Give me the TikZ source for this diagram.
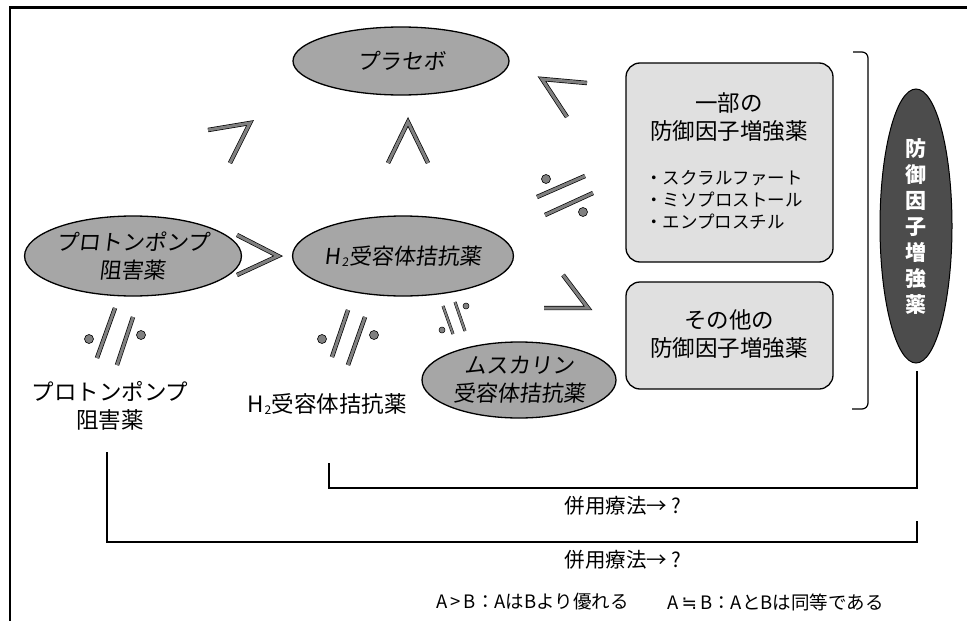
\documentclass[tikz,border=0pt]{standalone}
\usepackage{fontspec}
\setmainfont{Noto Sans CJK JP}
\newfontfamily\slantjp[FakeSlant=0.12]{Noto Sans CJK JP}
\newfontfamily\symfont{DejaVu Sans}
\usetikzlibrary{shapes.geometric}
\newcommand{\htwo}{H\kern1pt\raisebox{-2pt}{\fontsize{12}{12}\selectfont 2}\kern0.5pt}
\begin{document}
\begin{tikzpicture}[x=1pt,y=-1pt,
  lightell/.style={ellipse, draw=black, line width=1.3pt, fill=black!35, inner sep=0pt, align=center, font=\slantjp\fontsize{22}{28}\selectfont},
  darkell/.style={ellipse, draw=black, line width=1pt, fill=black!70, inner sep=0pt, align=center, text=white, font=\bfseries\fontsize{21}{26}\selectfont},
  boxsty/.style={draw=black, line width=1.3pt, rounded corners=14pt, fill=black!12, inner sep=0pt},
  boxtxt/.style={align=center, inner sep=0pt, font=\fontsize{22.5}{28}\selectfont},
  listtxt/.style={anchor=west, inner sep=0pt, font=\fontsize{17.5}{20}\selectfont},
  lbl/.style={align=center, inner sep=0pt, font=\fontsize{22.5}{28}\selectfont},
  reltx/.style={inner sep=0pt, font=\fontsize{20.5}{22}\selectfont},
  legtx/.style={inner sep=0pt, anchor=west, font=\fontsize{18.5}{20}\selectfont},
  rel/.style={draw=black, line width=0.7pt, double=black!50, double distance=3pt, line join=miter, line cap=butt},
  relsm/.style={draw=black, line width=0.5pt, double=black!50, double distance=2pt, line cap=butt},
  reldot/.style={circle, draw=black, line width=0.6pt, fill=black!50, minimum size=9pt, inner sep=0pt},
  reldotsm/.style={circle, draw=black, line width=0.5pt, fill=black!50, minimum size=6pt, inner sep=0pt},
  combo/.style={draw=black, line width=2.4pt, line join=miter}]
\useasboundingbox (0,0) rectangle (967,621);
% frame
\draw[line width=3pt] (9,7) -- (967,7);
\draw[line width=2.2pt] (10,6) -- (10,621);
% ellipses
\node[lightell, minimum width=216pt, minimum height=68pt] (placebo) at (401,61) {プラセボ};
\node[lightell, minimum width=198pt, minimum height=80pt] (ppi) at (133,256) {プロトンポンプ\\阻害薬};
\node[lightell, minimum width=210pt, minimum height=80pt] (h2) at (403,256) {\htwo 受容体拮抗薬};
\node[lightell, minimum width=194pt, minimum height=76pt] (musc) at (519,380) {ムスカリン\\受容体拮抗薬};
\node[darkell, minimum width=72pt, minimum height=274pt] (defall) at (916,226) {防\\御\\因\\子\\増\\強\\薬};
% boxes
\node[boxsty, minimum width=207pt, minimum height=199pt] (box1) at (729.5,162.5) {};
\node[boxtxt] (box1t) at (729,117) {一部の\\防御因子増強薬};
\node[listtxt] (l1) at (645,178) {・スクラルファート};
\node[listtxt] (l2) at (645,200) {・ミソプロストール};
\node[listtxt] (l3) at (645,222) {・エンプロスチル};
\node[boxsty, minimum width=207pt, minimum height=107pt] (box2) at (729.5,335.5) {};
\node[boxtxt] (box2t) at (729,334) {その他の\\防御因子増強薬};
% bracket
\draw[line width=1.2pt, rounded corners=6pt] (853,52) -- (868,52) -- (868,409) -- (852,409);
% labels
\node[lbl] (ppil) at (110,406) {プロトンポンプ\\阻害薬};
\node[lbl] (h2l) at (327,404) {\htwo 受容体拮抗薬};
% combination lines
\coordinate (c1s) at (329,463);
\coordinate (c1e) at (917,371);
\draw[combo] (c1s) -- (329,488) -- (917,488) -- (c1e);
\node[reltx] (combo1) at (623,506) {併用療法→ ?};
\coordinate (c2s) at (107,452);
\coordinate (c2e) at (917,521);
\draw[combo] (c2s) -- (107,542) -- (917,542) -- (c2e);
\node[reltx] (combo2) at (623,560) {併用療法→ ?};
% legend
\node[legtx] (legend1) at (436,602) {A\,>\,B：AはBより優れる};
\node[legtx] (legend2) at (667,602) {A\,{\symfont ≒}\,B：AとBは同等である};
% relation symbols
\draw[rel] (208,130) -- (250,123) -- (230,163);
\draw[rel] (388,163) -- (408,122) -- (428,163);
\draw[rel] (237,235) -- (278,256) -- (237,275);
\draw[rel] (587,83) -- (542,79) -- (567,117);
\draw[rel] (563,275) -- (588,308) -- (544,308);
% approx-equal near box1
\draw[rel] (537,197) -- (585,176);
\draw[rel] (545,215) -- (593,193);
\node[reldot] (d1) at (546,179) {};
\node[reldot] (d2) at (583,212) {};
% below PPI
\draw[rel] (115,308) -- (97,358);
\draw[rel] (133,317) -- (117,365);
\node[reldot] (d3) at (89,339) {};
\node[reldot] (d4) at (141,335) {};
% below H2
\draw[rel] (348,310) -- (332,357);
\draw[rel] (365,317) -- (348,365);
\node[reldot] (d5) at (322,339) {};
\node[reldot] (d6) at (374,335) {};
% H2 - muscarinic
\draw[relsm] (443,306) -- (453,334);
\draw[relsm] (455,302) -- (465,331);
\node[reldotsm] (d7) at (442,330) {};
\node[reldotsm] (d8) at (466,306) {};
\end{tikzpicture}
\end{document}
